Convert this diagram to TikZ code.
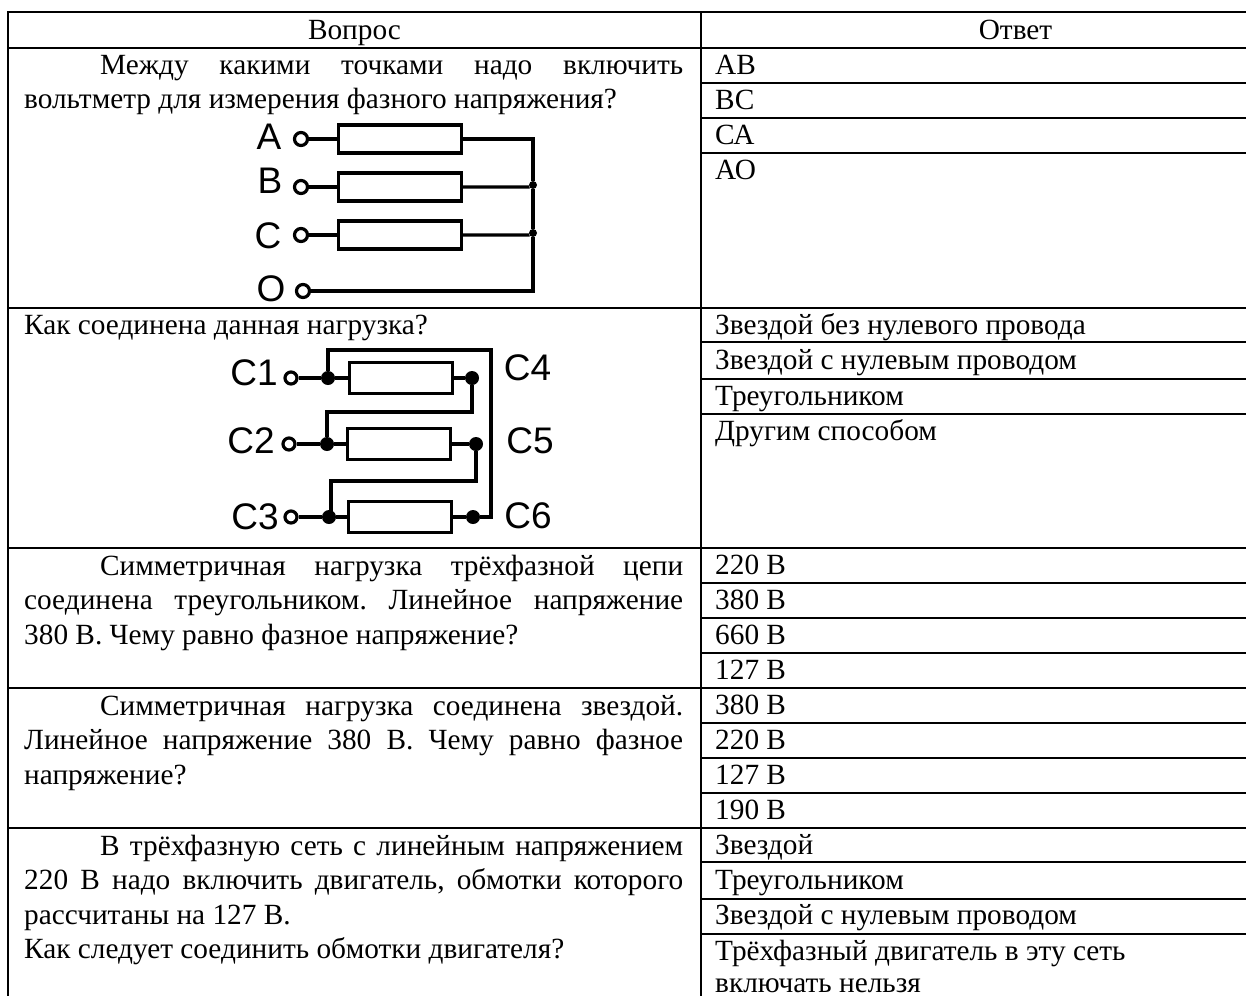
\documentclass[tikz,border=0pt]{standalone}
\usepackage{fontspec}
\setmainfont{Liberation Serif}
\setsansfont{Liberation Sans}
\frenchspacing
\tikzset{
    rule/.style={line width=2pt},
    wire/.style={line width=3.2pt},
    txt/.style={anchor=base west, inner sep=0pt, font=\fontsize{29.3}{34.5}\selectfont},
    para/.style={anchor=north west, inner sep=0pt, text width=659pt, align=justify, font=\fontsize{29.3}{34.5}\selectfont, execute at begin node=\strut},
    resist/.style={draw, line width=3.2pt, rectangle, inner sep=0pt, minimum width=#1pt, minimum height=28pt},
    term/.style={draw, circle, line width=3.2pt, fill=white, inner sep=0pt, minimum size=13pt},
    junc/.style={fill, circle, inner sep=0pt, minimum size=#1pt},
    lbl/.style={inner sep=0pt, font=\sffamily\fontsize{37}{37}\selectfont}
}
\begin{document}
\begin{tikzpicture}[x=1pt, y=-1pt]
    \useasboundingbox (0,0) rectangle (1246,996);
    % table
    \foreach \y in {12,48,308,548,688,828}
        \draw[rule] (7,\y) -- (1246,\y);
    \foreach \y in {83,118,153,342,379,414,583,618,653,723,758,793,862,899,934}
        \draw[rule] (701,\y) -- (1246,\y);
    \draw[rule] (8,11) -- (8,996);
    \draw[rule] (701,11) -- (701,996);
    % header
    \node[txt, anchor=base] (qhead) at (354.5,39) {Вопрос};
    \node[txt, anchor=base] (ahead) at (1015.5,39) {Ответ};
    % questions
    \node[para] (q1) at (24,50) {\hspace*{76pt}Между какими точками надо включить\linebreak вольтметр для измерения фазного напряжения?};
    \node[para] (q2) at (24,310) {Как соединена данная нагрузка?};
    \node[para] (q3) at (24,551) {\hspace*{76pt}Симметричная нагрузка трёхфазной цепи\linebreak соединена треугольником. Линейное напряжение\linebreak 380 В. Чему равно фазное напряжение?};
    \node[para] (q4) at (24,691) {\hspace*{76pt}Симметричная нагрузка соединена звездой.\linebreak Линейное напряжение 380 В. Чему равно фазное\linebreak напряжение?};
    \node[para] (q5) at (24,831) {\hspace*{76pt}В трёхфазную сеть с линейным напряжением\linebreak 220 В надо включить двигатель, обмотки которого\linebreak рассчитаны на 127 В.\\Как следует соединить обмотки двигателя?};
    % answers
    \node[txt] (a11) at (715,74) {АВ};
    \node[txt] (a12) at (715,109) {ВС};
    \node[txt] (a13) at (715,144) {СА};
    \node[txt] (a14) at (715,179) {АО};
    \node[txt] (a21) at (715,334) {Звездой без нулевого провода};
    \node[txt] (a22) at (715,369) {Звездой с нулевым проводом};
    \node[txt] (a23) at (715,405) {Треугольником};
    \node[txt] (a24) at (715,440) {Другим способом};
    \node[txt] (a31) at (715,574) {220 В};
    \node[txt] (a32) at (715,609) {380 В};
    \node[txt] (a33) at (715,644) {660 В};
    \node[txt] (a34) at (715,679) {127 В};
    \node[txt] (a41) at (715,714) {380 В};
    \node[txt] (a42) at (715,749) {220 В};
    \node[txt] (a43) at (715,784) {127 В};
    \node[txt] (a44) at (715,819) {190 В};
    \node[txt] (a51) at (715,854) {Звездой};
    \node[txt] (a52) at (715,889) {Треугольником};
    \node[txt] (a53) at (715,924) {Звездой с нулевым проводом};
    \node[txt] (a54) at (715,960) {Трёхфазный двигатель в эту сеть};
    \node[txt] (a55) at (715,992) {включать нельзя};
    % first circuit
    \node[lbl] (la) at (269,137) {A};
    \node[lbl] (lb) at (270,181) {B};
    \node[lbl] (lc) at (268,236) {C};
    \node[lbl] (lo) at (271,289) {O};
    \node[resist=123] (ra) at (400,139) {};
    \node[resist=123] (rb) at (400,187) {};
    \node[resist=123] (rc) at (400,235) {};
    \node[term] (ta) at (301,139) {};
    \node[term] (tb) at (301,187) {};
    \node[term] (tc) at (301,235) {};
    \node[term] (to) at (303,291) {};
    \node[junc=8] (jb) at (533,185) {};
    \node[junc=8] (jc) at (533,233) {};
    \coordinate (ca) at (533,139);
    \coordinate (co) at (533,291);
    \draw[wire] (ta) -- (ra);
    \draw[wire] (tb) -- (rb);
    \draw[wire] (tc) -- (rc);
    \draw[wire] (ra) -- (ca) -- (jb);
    \draw[wire] (rb.east) -- (jb.west |- rb.east) -- (jb);
    \draw[wire] (rc.east) -- (jc.west |- rc.east) -- (jc);
    \draw[wire] (jb) -- (jc) -- (co) -- (to);
    % second circuit
    \node[lbl] (l1) at (254,373) {C1};
    \node[lbl] (l2) at (251,441) {C2};
    \node[lbl] (l3) at (255,517) {C3};
    \node[lbl] (l4) at (527.5,368) {C4};
    \node[lbl] (l5) at (530,441) {C5};
    \node[lbl] (l6) at (528,516) {C6};
    \node[resist=103, minimum height=31pt] (r1) at (401,378) {};
    \node[resist=103, minimum height=31pt] (r2) at (399,444) {};
    \node[resist=103, minimum height=31pt] (r3) at (400,517) {};
    \node[term, minimum size=12pt] (t1) at (291,378) {};
    \node[term, minimum size=12pt] (t2) at (289,444) {};
    \node[term, minimum size=12pt] (t3) at (291,517) {};
    \node[junc=14] (j1) at (328,378) {};
    \node[junc=14] (j2) at (327,444) {};
    \node[junc=14] (j3) at (329,517) {};
    \node[junc=14] (j4) at (472,378) {};
    \node[junc=14] (j5) at (476,444) {};
    \node[junc=14] (j6) at (473,517) {};
    \coordinate (c1) at (328,350);
    \coordinate (c2) at (491,350);
    \coordinate (c3) at (491,517);
    \coordinate (c5) at (327,412);
    \coordinate (c6) at (476,481);
    \coordinate (c7) at (331,481);
    \coordinate (c8) at (331,517);
    \draw[wire] (t1) -- (j1) -- (r1) -- (j4);
    \draw[wire] (t2) -- (j2) -- (r2) -- (j5);
    \draw[wire] (t3) -- (j3) -- (r3) -- (j6);
    \draw[wire] (j1) -- (c1) -- (c2) -- (c3) -- (j6);
    \draw[wire] (j4) |- (c5) -- (j2);
    \draw[wire] (j5) -- (c6) -- (c7) -- (c8);
\end{tikzpicture}
\end{document}
